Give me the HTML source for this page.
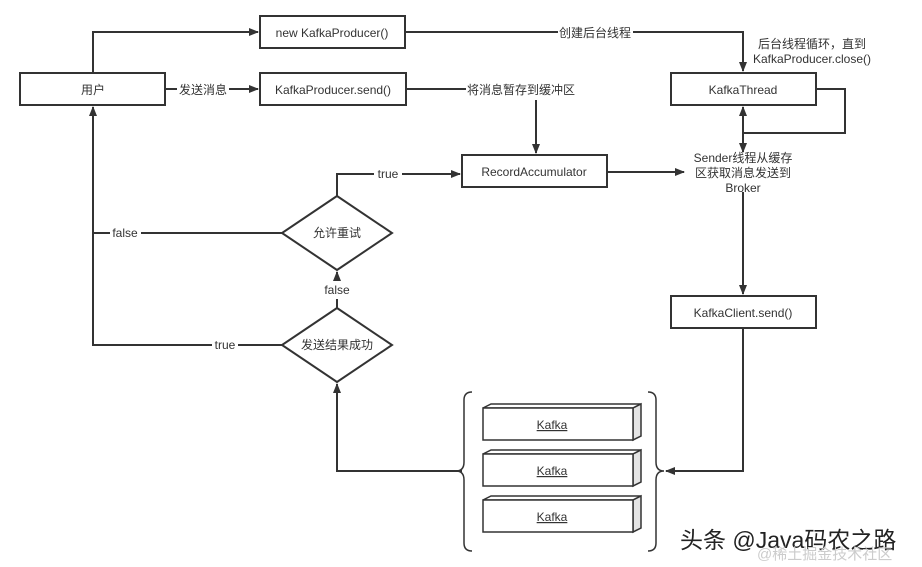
<!DOCTYPE html>
<html><head><meta charset="utf-8"><style>
html,body{margin:0;padding:0;background:#fff;}
svg{display:block;}
text{font-family:"Liberation Sans","Noto Sans CJK SC",sans-serif;font-size:12px;fill:#333;}
</style></head><body>
<svg width="922" height="567" viewBox="0 0 922 567" xmlns="http://www.w3.org/2000/svg">
<defs>
<marker id="a" markerWidth="10" markerHeight="8" refX="9" refY="4" orient="auto" markerUnits="userSpaceOnUse">
<path d="M0,0 L10,4 L0,8 z" fill="#333"/></marker>
</defs>
<g stroke="#333" stroke-width="2" fill="none">
<rect x="20" y="73" width="145" height="32" fill="#fff"/>
<rect x="260" y="16" width="145" height="32" fill="#fff"/>
<rect x="260" y="73" width="146" height="32" fill="#fff"/>
<rect x="671" y="73" width="145" height="32" fill="#fff"/>
<rect x="462" y="155" width="145" height="32" fill="#fff"/>
<rect x="671" y="296" width="145" height="32" fill="#fff"/>
<path d="M337,196 L392,233 L337,270 L282,233 Z" fill="#fff"/>
<path d="M337,308 L392,345 L337,382 L282,345 Z" fill="#fff"/>
<path d="M93,73 V32 H258" marker-end="url(#a)"/>
<path d="M165,89 H177 M229,89 H258" marker-end="url(#a)"/>
<path d="M405,32 H558 M633,32 H743 V71" marker-end="url(#a)"/>
<path d="M406,89 H466 M536,100 V153" marker-end="url(#a)"/>
<path d="M816,89 H845 V133 H743 V107" marker-end="url(#a)"/>
<path d="M743,133 V152" marker-end="url(#a)"/>
<path d="M607,172 H684" marker-end="url(#a)"/>
<path d="M743,192 V294" marker-end="url(#a)"/>
<path d="M743,328 V471 H666" marker-end="url(#a)"/>
<path d="M337,196 V174 H374 M402,174 H460" marker-end="url(#a)"/>
<path d="M282,233 H141 M110,233 H93"/>
<path d="M282,345 H238 M212,345 H93 V107" marker-end="url(#a)"/>
<path d="M337,308 V299 M337,281 V272" marker-end="url(#a)"/>
<path d="M462,471 H337 V384" marker-end="url(#a)"/>
<path d="M472,392 Q464,392 464,400 V462 Q464,471 456,471 Q464,471 464,480 V543 Q464,551 472,551" stroke-width="1.5"/>
<path d="M648,392 Q656,392 656,400 V462 Q656,471 664,471 Q656,471 656,480 V543 Q656,551 648,551" stroke-width="1.5"/>
</g>
<g stroke="#333" stroke-width="1.5">
<g>
<path d="M483,408 L491,404 H641 L633,408 Z" fill="#fff"/>
<path d="M633,408 L641,404 V436 L633,440 Z" fill="#e4e4e4"/>
<rect x="483" y="408" width="150" height="32" fill="#fff"/>
</g>
<g>
<path d="M483,454 L491,450 H641 L633,454 Z" fill="#fff"/>
<path d="M633,454 L641,450 V482 L633,486 Z" fill="#e4e4e4"/>
<rect x="483" y="454" width="150" height="32" fill="#fff"/>
</g>
<g>
<path d="M483,500 L491,496 H641 L633,500 Z" fill="#fff"/>
<path d="M633,500 L641,496 V528 L633,532 Z" fill="#e4e4e4"/>
<rect x="483" y="500" width="150" height="32" fill="#fff"/>
</g>
</g>
<g text-anchor="middle">
<text x="93" y="94">用户</text>
<text x="332" y="37">new KafkaProducer()</text>
<text x="333" y="94">KafkaProducer.send()</text>
<text x="743" y="94">KafkaThread</text>
<text x="534" y="176">RecordAccumulator</text>
<text x="743" y="317">KafkaClient.send()</text>
<text x="337" y="237">允许重试</text>
<text x="337" y="349">发送结果成功</text>
<text x="203" y="94">发送消息</text>
<text x="595" y="37">创建后台线程</text>
<text x="521" y="94">将消息暂存到缓冲区</text>
<text x="812" y="48">后台线程循环，直到</text>
<text x="812" y="63">KafkaProducer.close()</text>
<text x="743" y="162">Sender线程从缓存</text>
<text x="743" y="177">区获取消息发送到</text>
<text x="743" y="192">Broker</text>
<text x="388" y="178">true</text>
<text x="125" y="237">false</text>
<text x="225" y="349">true</text>
<text x="337" y="294">false</text>
<text x="552" y="429" text-decoration="underline">Kafka</text>
<text x="552" y="475" text-decoration="underline">Kafka</text>
<text x="552" y="521" text-decoration="underline">Kafka</text>
</g>
<text x="680" y="548" style="font-size:23px;fill:#222;">头条 @Java码农之路</text>
<text x="757" y="559" style="font-size:15px;fill:#ccc">@稀土掘金技术社区</text>
</svg>
</body></html>
